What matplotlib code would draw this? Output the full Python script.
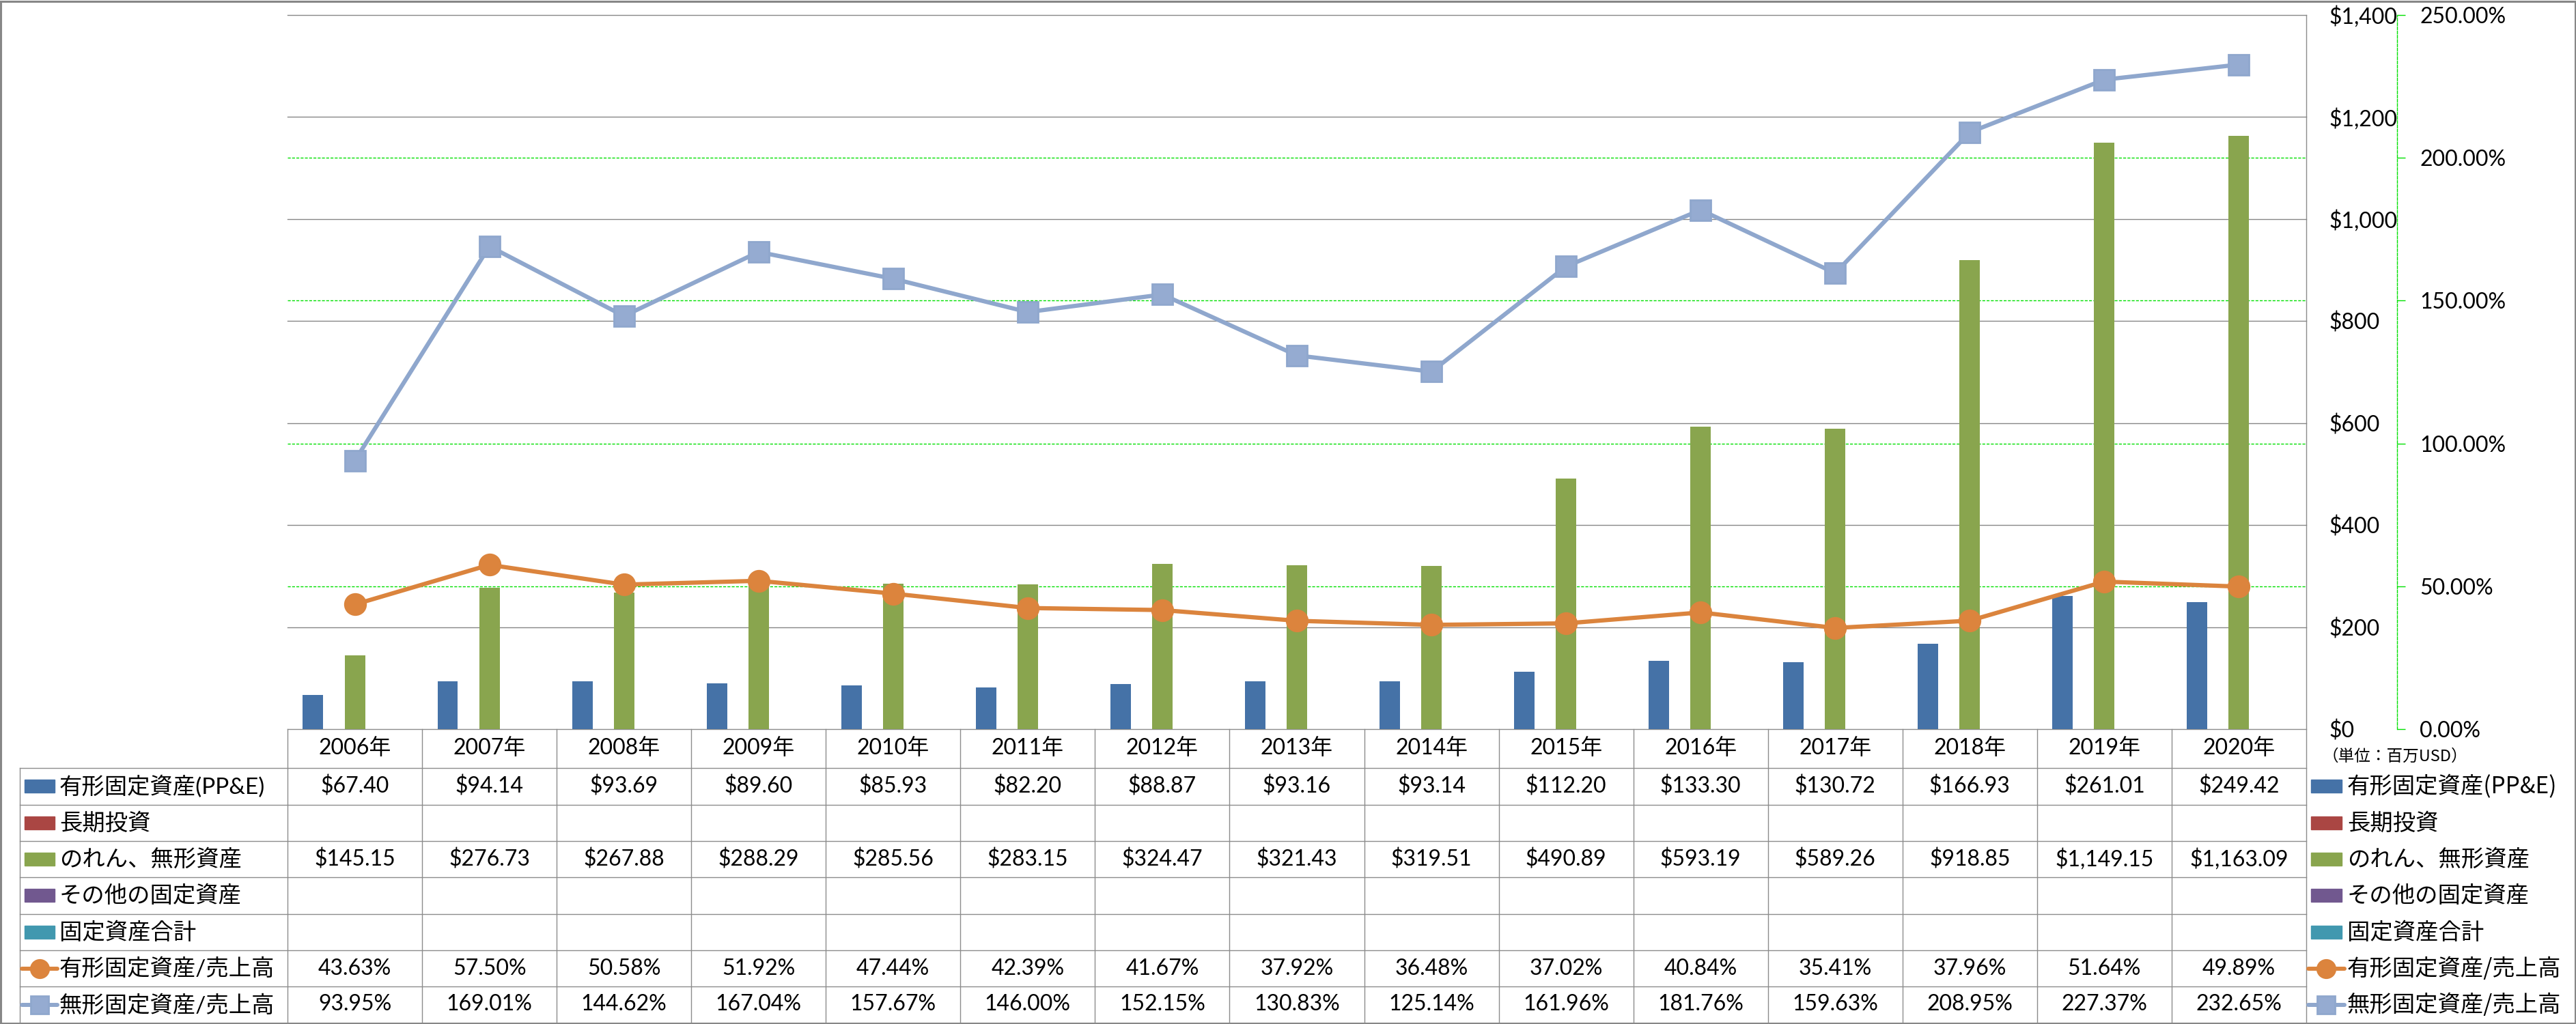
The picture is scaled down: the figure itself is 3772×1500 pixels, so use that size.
import matplotlib
matplotlib.use('Agg')
import matplotlib.pyplot as plt
from matplotlib.patches import Rectangle
from matplotlib.lines import Line2D
from matplotlib.transforms import blended_transform_factory
import numpy as np

plt.rcParams['font.family'] = ['Lato', 'Noto Sans CJK JP', 'DejaVu Sans']

# data (単位: 百万USD)
years = ['2006年', '2007年', '2008年', '2009年', '2010年', '2011年', '2012年', '2013年',
         '2014年', '2015年', '2016年', '2017年', '2018年', '2019年', '2020年']
ppe = [67.40, 94.14, 93.69, 89.60, 85.93, 82.20, 88.87, 93.16, 93.14, 112.20,
       133.30, 130.72, 166.93, 261.01, 249.42]
long_inv = [None] * 15
goodwill = [145.15, 276.73, 267.88, 288.29, 285.56, 283.15, 324.47, 321.43, 319.51,
            490.89, 593.19, 589.26, 918.85, 1149.15, 1163.09]
other_fixed = [None] * 15
fixed_total = [None] * 15
ppe_ratio = [43.63, 57.50, 50.58, 51.92, 47.44, 42.39, 41.67, 37.92, 36.48, 37.02,
             40.84, 35.41, 37.96, 51.64, 49.89]
intang_ratio = [93.95, 169.01, 144.62, 167.04, 157.67, 146.00, 152.15, 130.83, 125.14,
                161.96, 181.76, 159.63, 208.95, 227.37, 232.65]

bar_names = ['有形固定資産(PP&E)', '長期投資', 'のれん、無形資産', 'その他の固定資産', '固定資産合計']
bar_colors = ['#4572A7', '#AA4643', '#89A54E', '#71588F', '#4198AF']
line_names = ['有形固定資産/売上高', '無形固定資産/売上高']
line_colors = ['#DB843D', '#8FA7CD']
line_faces = ['#DC843D', '#95ABD1']
line_markers = ['o', 's']

W, H = 3773, 1500
fig = plt.figure(figsize=(W / 100, H / 100), dpi=100)

# overlay in pixel coordinates for the data table and frame
tab = fig.add_axes([0, 0, 1, 1])
tab.set_xlim(0, W)
tab.set_ylim(H, 0)
tab.axis('off')

PL, PR, PT, PB = 421, 3377, 22, 1068
ax = fig.add_axes([PL / W, 1 - PB / H, (PR - PL) / W, (PB - PT) / H])
ax.patch.set_visible(False)
ax.set_xlim(-0.5, 14.5)
ax.set_ylim(0, 1400)
ax2 = ax.twinx()
ax2.set_ylim(0, 250)

for s in ax.spines.values():
    s.set_visible(False)
ax.set_xticks([])
ax.set_yticks(range(0, 1401, 200))
ax.yaxis.tick_right()
ax.yaxis.set_major_formatter(matplotlib.ticker.FuncFormatter(lambda v, p: '${:,.0f}'.format(v)))
ax.tick_params(axis='y', which='both', left=False, right=True, labelleft=False,
               labelright=True, length=0, pad=24, labelsize=23)

for k, s in ax2.spines.items():
    s.set_visible(k == 'right')
green = '#00E000'
ax2.spines['right'].set_position(('outward', 96))
ax2.spines['right'].set_color(green)
ax2.spines['right'].set_linestyle((0, (3, 1.5)))
ax2.spines['right'].set_linewidth(1)
ax2.set_xticks([])
ax2.set_yticks(np.arange(0, 251, 50))
ax2.yaxis.set_major_formatter(matplotlib.ticker.FuncFormatter(lambda v, p: '{:.2f}%'.format(v)))
ax2.tick_params(axis='y', direction='out', length=8.6, width=1, color=green, pad=15, labelsize=23)

# gridlines
for v in range(200, 1401, 200):
    ax.axhline(v, color='#868686', lw=1, zorder=1, clip_on=False)
gtr = blended_transform_factory(ax.transAxes, ax2.transData)
for v in [50, 100, 150, 200]:
    ax.add_line(Line2D([0, 1], [v, v], transform=gtr, color=green, lw=1,
                       linestyle=(0, (3, 1.5)), zorder=1))

# bars
x = np.arange(len(years))
bw = 0.155
bar_data = [ppe, long_inv, goodwill, other_fixed, fixed_total]
for k, (vals, c) in enumerate(zip(bar_data, bar_colors)):
    v = np.array([np.nan if a is None else a for a in vals], dtype=float)
    ax.bar(x + (k - 2) * bw, v, width=bw * 0.98, color=c, zorder=2)

# lines (secondary axis)
for vals, c, fc, m in zip([ppe_ratio, intang_ratio], line_colors, line_faces, line_markers):
    ax2.plot(x, vals, color=c, lw=4.5, marker=m, markersize=22, markerfacecolor=fc,
             markeredgecolor=c, markeredgewidth=2, zorder=3, clip_on=False,
             solid_joinstyle='round')

# data table
gray = '#8C8C8C'
col_edges = [PL + (PR - PL) * i / 15 for i in range(16)]
row_edges = [1068, 1125, 1178.5, 1232, 1285, 1338.5, 1392, 1445, 1498]
for y in row_edges[1:-1]:
    tab.plot([29, PR], [y, y], color=gray, lw=1)
tab.plot([PL, PR], [1068, 1068], color=gray, lw=1)
tab.plot([29, 29], [1125, 1498], color=gray, lw=1)
for xe in col_edges[:-1]:
    tab.plot([xe, xe], [1068, 1498], color=gray, lw=1)
tab.plot([PR, PR], [PT, 1498], color=gray, lw=1)

row_c = [(row_edges[i] + row_edges[i + 1]) / 2 for i in range(8)]
col_c = [(col_edges[i] + col_edges[i + 1]) / 2 for i in range(15)]
for cx, yl in zip(col_c, years):
    tab.text(cx, row_c[0], yl, ha='center', va='center', fontsize=23)

table_rows = [
    ['${:,.2f}'.format(v) for v in ppe],
    [''] * 15,
    ['${:,.2f}'.format(v) for v in goodwill],
    [''] * 15,
    [''] * 15,
    ['{:.2f}%'.format(v) for v in ppe_ratio],
    ['{:.2f}%'.format(v) for v in intang_ratio],
]
for r, row in enumerate(table_rows):
    for cx, s in zip(col_c, row):
        tab.text(cx, row_c[r + 1], s, ha='center', va='center', fontsize=23)

# legend keys: left (in table) and right
names = bar_names + line_names
for r, name in enumerate(names):
    yc = row_c[r + 1]
    for kx0, kx1, tx, fam in [(36, 80, 87, ['Lato', 'Noto Sans CJK JP']),
                              (3384, 3429, 3437, ['Noto Sans CJK JP', 'DejaVu Sans'])]:
        if r < 5:
            tab.add_patch(Rectangle((kx0, yc - 9.5), kx1 - kx0, 19, color=bar_colors[r]))
        else:
            j = r - 5
            tab.plot([kx0 - 4, kx1 + 4], [yc, yc], color=line_colors[j], lw=4.3,
                     solid_capstyle='round')
            tab.plot([(kx0 + kx1) / 2], [yc], marker=line_markers[j], markersize=19,
                     markerfacecolor=line_faces[j], markeredgecolor=line_colors[j],
                     markeredgewidth=2)
        tab.text(tx, yc + 1, name, ha='left', va='center', fontsize=24, family=fam)

tab.text(3401, 1108, '（単位：百万USD）', ha='left', va='center', fontsize=17,
         family=['Noto Sans CJK JP', 'DejaVu Sans'])

# outer frame
tab.add_patch(Rectangle((1.5, 1.5), W - 3, H - 3, fill=False, edgecolor='#878787', lw=2.2))

fig.savefig('out.png', dpi=100)
